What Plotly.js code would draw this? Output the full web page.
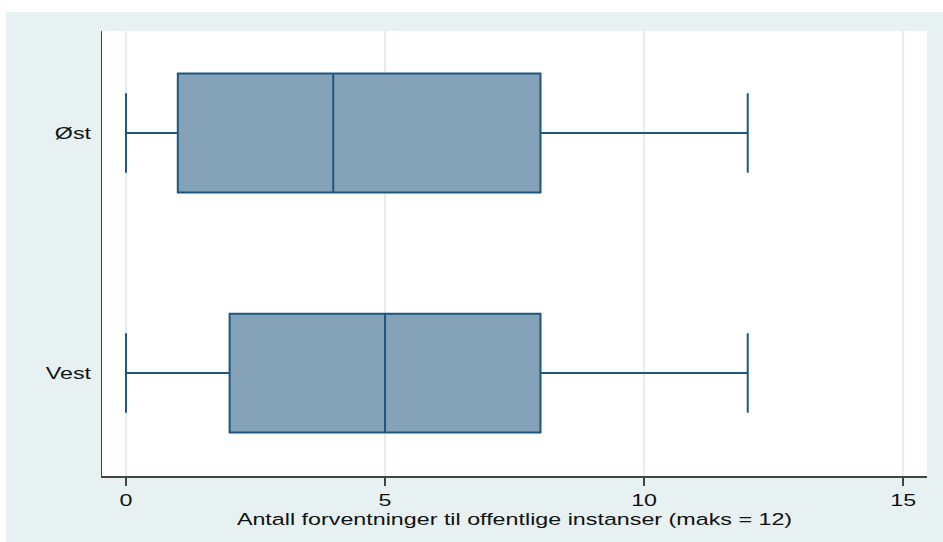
<!DOCTYPE html>
<html>
<head>
<meta charset="utf-8">
<script src="https://cdn.plot.ly/plotly-3.0.1.min.js"></script>
<style>
html,body{margin:0;padding:0;background:#ffffff;}
#chart{position:absolute;left:6px;top:12px;width:937px;height:530px;}
</style>
</head>
<body>
<div id="chart"></div>
<script>
// Data
const groups = ['Øst', 'Vest'];
const minVals = [0, 0];
const q1Vals = [1, 2];
const medianVals = [4, 5];
const q3Vals = [8, 8];
const maxVals = [12, 12];
const xTicks = [0, 5, 10, 15];
const xTitle = 'Antall forventninger til offentlige instanser (maks = 12)';

const trace = {
  type: 'box',
  orientation: 'h',
  y: groups,
  q1: q1Vals,
  median: medianVals,
  q3: q3Vals,
  lowerfence: minVals,
  upperfence: maxVals,
  width: 0.495,
  whiskerwidth: 0.67,
  fillcolor: '#84A3B8',
  line: {color: '#1D5680', width: 2},
  hoverinfo: 'skip',
  showlegend: false
};

const layout = {
  width: 937,
  height: 530,
  paper_bgcolor: '#E7F1F2',
  plot_bgcolor: '#FFFFFF',
  margin: {l: 96, r: 16, t: 19, b: 66},
  font: {family: 'Liberation Sans, Arial, sans-serif', size: 17, color: '#111111'},
  xaxis: {
    range: [-0.463, 15.46],
    tickvals: xTicks,
    ticktext: xTicks.map(String),
    showgrid: true,
    gridcolor: '#E4EEF1',
    gridwidth: 1.5,
    zeroline: false,
    showline: true,
    linecolor: '#444444',
    linewidth: 1.5,
    ticks: 'outside',
    ticklen: 8,
    tickcolor: '#444444',
    tickwidth: 1.5,
    tickfont: {size: 17},
    title: {text: xTitle, font: {size: 17}, standoff: 0},
    fixedrange: true
  },
  yaxis: {
    type: 'category',
    categoryorder: 'array',
    categoryarray: ['Vest', 'Øst'],
    range: [-0.429, 1.425],
    showgrid: false,
    zeroline: false,
    showline: true,
    linecolor: '#444444',
    linewidth: 1.5,
    ticks: '',
    ticklen: 0,
    ticklabelstandoff: 6,
    tickfont: {size: 17},
    fixedrange: true
  }
};

Plotly.newPlot('chart', [trace], layout, {displayModeBar: false, staticPlot: true}).then(function (gd) {
  // The reference text is horizontally stretched; widen the glyphs around their anchors.
  const s = 1.37;
  gd.querySelectorAll('.xtick text, .ytick text, .xtitle').forEach(function (t) {
    const x = parseFloat(t.getAttribute('x')) || 0;
    const tr = t.getAttribute('transform') || '';
    t.setAttribute('transform', tr + ' translate(' + x + ',0) scale(' + s + ',1) translate(' + (-x) + ',0)');
  });
});
</script>
</body>
</html>
